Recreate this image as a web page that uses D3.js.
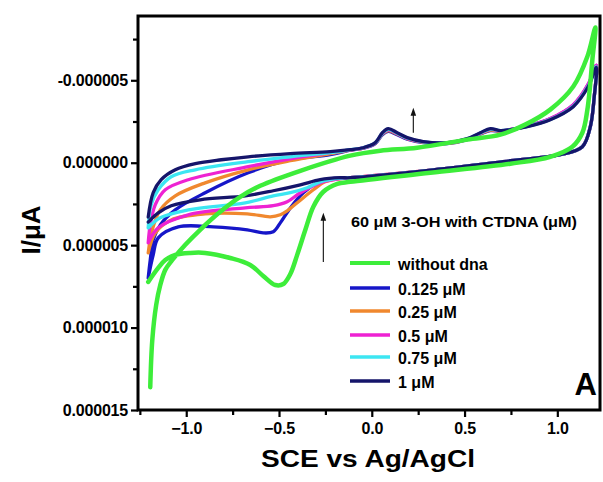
<!DOCTYPE html>
<html>
<head>
<meta charset="utf-8">
<script src="https://cdn.jsdelivr.net/npm/d3@7"></script>
<style>
  body { margin: 0; background: #fff; }
  text { font-family: Arial, "Liberation Sans", sans-serif; }
</style>
</head>
<body>
<div id="chart"></div>
<script>
// ticks (current in uA units, labelled in A)
var xTicks = [-1.0, -0.5, 0.0, 0.5, 1.0];
var xMinor = [-1.25, -0.75, -0.25, 0.25, 0.75];
var yTicks = [-5, 0, 5, 10, 15];
var yMinor = [-7.5, -2.5, 2.5, 7.5, 12.5];

var seriesNames = ["without dna", "0.125 \u03bcM", "0.25 \u03bcM", "0.5 \u03bcM", "0.75 \u03bcM", "1 \u03bcM"];
var seriesColors = ["#3ded3a", "#1616c8", "#f0882e", "#ee22d2", "#3ce6f2", "#15156a"];

// [E (V), I (uA)]  each loop: cathodic branch left->right, then back
var cvWithoutDna = [
  [-1.205,7.23],[-1.151,6.38],[-1.113,5.90],[-1.059,5.59],[-0.978,5.47],[-0.898,5.47],[-0.763,5.78],
  [-0.655,6.20],[-0.585,6.87],[-0.520,7.42],[-0.477,7.36],[-0.439,6.75],[-0.402,5.59],[-0.358,4.07],
  [-0.315,2.67],[-0.261,1.76],[-0.186,1.28],[-0.116,1.16],[0.315,0.61],[0.747,0.06],[0.962,-0.36],
  [1.081,-0.97],[1.135,-1.82],[1.162,-3.22],[1.189,-6.26],[1.205,-8.21],
  [1.162,-6.44],[1.086,-4.62],[0.962,-3.22],[0.827,-2.31],[0.693,-1.70],[0.515,-1.40],[0.245,-0.91],
  [0.046,-0.73],[-0.116,-0.43],[-0.385,0.49],[-0.601,1.40],[-0.709,2.07],[-0.817,2.98],[-0.925,4.07],
  [-1.005,4.98],[-1.075,5.90],[-1.113,6.50],[-1.140,7.42],[-1.162,8.63],[-1.183,10.76],[-1.194,13.62]
];
var cv0125 = [
  [-1.205,6.99],[-1.178,5.59],[-1.151,4.56],[-1.043,3.89],[-0.854,3.89],[-0.671,4.07],[-0.585,4.26],
  [-0.531,4.19],[-0.493,3.65],[-0.439,2.74],[-0.369,1.82],[-0.294,1.22],[-0.224,0.97],[-0.116,0.91],
  [0.332,0.43],[0.747,-0.12],[1.016,-0.49],[1.135,-0.97],[1.178,-2.19],[1.199,-4.01],[1.210,-5.90],
  [1.167,-4.75],[1.086,-3.50],[0.962,-2.66],[0.838,-2.22],[0.747,-2.00],[0.693,-1.90],[0.639,-1.95],
  [0.585,-1.74],[0.515,-1.40],[0.407,-1.16],[0.278,-1.22],[0.191,-1.43],[0.137,-1.70],[0.089,-1.90],
  [0.057,-1.70],[0.019,-1.16],[-0.046,-0.88],[-0.116,-0.76],[-0.224,-0.49],[-0.439,-0.18],[-0.666,0.61],
  [-0.898,1.82],[-1.059,2.86],[-1.140,3.77],[-1.178,4.68],[-1.194,5.90],[-1.205,6.99]
];
var cv025 = [
  [-1.205,5.47],[-1.167,4.26],[-1.081,3.47],[-0.898,3.10],[-0.671,3.10],[-0.547,3.28],[-0.493,3.16],
  [-0.456,2.92],[-0.402,2.43],[-0.315,1.64],[-0.251,1.16],[-0.170,0.97],[-0.116,0.91],
  [0.332,0.43],[0.747,-0.12],[1.016,-0.49],[1.135,-0.97],[1.178,-2.19],[1.199,-4.01],[1.210,-5.88],
  [1.167,-4.72],[1.086,-3.47],[0.962,-2.64],[0.838,-2.21],[0.747,-2.00],[0.693,-1.92],[0.639,-1.98],
  [0.585,-1.76],[0.515,-1.42],[0.407,-1.18],[0.278,-1.24],[0.191,-1.46],[0.137,-1.74],[0.089,-1.95],
  [0.057,-1.74],[0.019,-1.18],[-0.046,-0.89],[-0.116,-0.77],[-0.224,-0.55],[-0.439,-0.12],[-0.666,0.43],
  [-0.898,1.22],[-1.059,2.01],[-1.140,2.86],[-1.183,4.07],[-1.205,5.47]
];
var cv05 = [
  [-1.205,4.86],[-1.151,3.95],[-0.989,3.16],[-0.682,2.74],[-0.531,2.61],[-0.456,2.37],[-0.385,1.82],
  [-0.278,1.22],[-0.170,0.97],[-0.116,0.91],
  [0.332,0.43],[0.747,-0.12],[1.016,-0.49],[1.135,-0.97],[1.178,-2.19],[1.199,-4.01],[1.210,-5.92],
  [1.167,-4.78],[1.086,-3.52],[0.962,-2.68],[0.838,-2.22],[0.747,-2.02],[0.693,-1.94],[0.639,-2.02],
  [0.585,-1.78],[0.515,-1.44],[0.407,-1.20],[0.278,-1.26],[0.191,-1.48],[0.137,-1.77],[0.089,-1.99],
  [0.057,-1.77],[0.019,-1.20],[-0.046,-0.90],[-0.116,-0.78],[-0.224,-0.61],[-0.439,-0.24],[-0.666,0.24],
  [-0.989,1.03],[-1.113,1.64],[-1.167,2.55],[-1.194,3.77],[-1.205,4.86]
];
var cv075 = [
  [-1.205,3.95],[-1.140,3.34],[-0.989,2.86],[-0.682,2.43],[-0.531,2.01],[-0.439,1.82],[-0.348,1.52],
  [-0.278,1.16],[-0.170,0.94],[-0.116,0.91],
  [0.332,0.43],[0.747,-0.12],[1.016,-0.49],[1.135,-0.97],[1.178,-2.19],[1.199,-4.01],[1.210,-5.82],
  [1.167,-4.66],[1.086,-3.43],[0.962,-2.62],[0.838,-2.20],[0.747,-2.01],[0.693,-1.95],[0.639,-2.04],
  [0.585,-1.80],[0.515,-1.45],[0.407,-1.21],[0.278,-1.27],[0.191,-1.50],[0.137,-1.79],[0.089,-2.03],
  [0.057,-1.79],[0.019,-1.21],[-0.046,-0.91],[-0.116,-0.79],[-0.224,-0.61],[-0.439,-0.36],[-0.666,-0.06],
  [-0.951,0.43],[-1.081,0.85],[-1.151,1.64],[-1.189,2.55],[-1.205,3.95]
];
var cv1 = [
  [-1.205,3.60],[-1.151,3.04],[-1.081,2.61],[-0.925,2.25],[-0.682,2.01],[-0.531,1.70],[-0.385,1.34],
  [-0.278,1.03],[-0.170,0.91],[-0.116,0.91],
  [0.332,0.43],[0.747,-0.12],[1.016,-0.49],[1.135,-0.97],[1.178,-2.19],[1.199,-4.01],[1.210,-5.78],
  [1.167,-4.62],[1.086,-3.40],[0.962,-2.61],[0.838,-2.19],[0.747,-2.01],[0.693,-1.95],[0.639,-2.07],
  [0.585,-1.82],[0.515,-1.46],[0.407,-1.22],[0.278,-1.28],[0.191,-1.52],[0.137,-1.82],[0.089,-2.07],
  [0.057,-1.82],[0.019,-1.22],[-0.046,-0.91],[-0.116,-0.79],[-0.224,-0.67],[-0.439,-0.55],[-0.666,-0.36],
  [-0.811,-0.18],[-0.951,0.06],[-1.059,0.43],[-1.135,1.03],[-1.178,1.82],[-1.205,3.30]
];

// arrows: potential, start current, tip current
var arrowE = [-0.261, 0.224];
var arrowFrom = [6.02, -1.82];
var arrowTo = [3.04, -3.34];

var margin = {top: 16, right: 3, bottom: 72, left: 138},
    width = 603 - margin.left - margin.right,
    height = 482 - margin.top - margin.bottom;

var svg = d3.select("#chart")
  .append("svg")
    .attr("width", 603)
    .attr("height", 482)
  .append("g")
    .attr("transform", "translate(" + margin.left + "," + margin.top + ")");

var x = d3.scaleLinear().domain([-1.26, 1.23]).range([0, width]);
var y = d3.scaleLinear().domain([-8.9, 15]).range([0, height]);

svg.append("clipPath").attr("id", "plotclip")
  .append("rect").attr("width", width).attr("height", height);

var line = d3.line()
  .x(function(d) { return x(d[0]); })
  .y(function(d) { return y(d[1]); })
  .curve(d3.curveCatmullRom.alpha(0.5));

// drawn back to front: 0.125 .. 1 uM, then the curve without DNA on top
var curves = [cvWithoutDna, cv0125, cv025, cv05, cv075, cv1];
var order = [1, 2, 3, 4, 5, 0];
var plot = svg.append("g").attr("clip-path", "url(#plotclip)");
order.forEach(function(i) {
  plot.append("path")
    .datum(curves[i])
    .attr("d", line)
    .attr("fill", "none")
    .attr("stroke", seriesColors[i])
    .attr("stroke-width", i == 0 ? 4.5 : 3.3)
    .attr("stroke-linejoin", "round")
    .attr("stroke-linecap", "round");
});

// arrows
arrowE.forEach(function(e, i) {
  var ax = x(e), y0 = y(arrowFrom[i]), y1 = y(arrowTo[i]);
  svg.append("line")
    .attr("x1", ax).attr("x2", ax)
    .attr("y1", y0).attr("y2", y1 + 5)
    .attr("stroke", "#222").attr("stroke-width", 1.2);
  svg.append("path")
    .attr("d", "M" + ax + "," + y1 + "L" + (ax - 2.8) + "," + (y1 + 8) + "L" + (ax + 2.8) + "," + (y1 + 8) + "Z")
    .attr("fill", "#111");
});

// axes
var yAxis = svg.append("g")
  .call(d3.axisLeft(y).tickValues(yTicks).tickSize(7).tickPadding(3)
    .tickFormat(function(d) { return (d * 1e-6).toFixed(6); }));
svg.append("g")
  .call(d3.axisLeft(y).tickValues(yMinor).tickSize(5).tickFormat(""));
var xAxis = svg.append("g")
  .attr("transform", "translate(0," + height + ")")
  .call(d3.axisBottom(x).tickValues(xTicks).tickSize(7).tickPadding(6)
    .tickFormat(d3.format(".1f")));
svg.append("g")
  .attr("transform", "translate(0," + height + ")")
  .call(d3.axisBottom(x).tickValues(xMinor).tickSize(5).tickFormat(""));

svg.selectAll(".domain").remove();
svg.selectAll(".tick line").attr("stroke", "#000").attr("stroke-width", 2.2);
svg.selectAll(".tick text")
  .attr("fill", "#000")
  .attr("font-family", "Arial, 'Liberation Sans', sans-serif")
  .attr("font-weight", "bold")
  .attr("font-size", 16)
  .attr("letter-spacing", -0.2);

svg.append("rect")
  .attr("width", width).attr("height", height)
  .attr("fill", "none").attr("stroke", "#000").attr("stroke-width", 3);

// axis titles
svg.append("text")
  .attr("x", width / 2 - 1)
  .attr("y", height + 57)
  .attr("text-anchor", "middle")
  .attr("font-weight", "bold")
  .attr("font-size", 23)
  .attr("textLength", 214)
  .attr("lengthAdjust", "spacingAndGlyphs")
  .text("SCE vs Ag/AgCl");

svg.append("text")
  .attr("transform", "translate(" + (40 - margin.left) + "," + (230 - margin.top) + ") rotate(-90)")
  .attr("text-anchor", "middle")
  .attr("font-weight", "bold")
  .attr("font-size", 26)
  .text("I/\u03bcA");

// panel letter
svg.append("text")
  .attr("x", width - 3)
  .attr("y", 395 - margin.top)
  .attr("text-anchor", "end")
  .attr("font-weight", "bold")
  .attr("font-size", 31)
  .text("A");

// legend
var legend = svg.append("g").attr("transform", "translate(" + (350 - margin.left) + "," + (227 - margin.top) + ")");
legend.append("text")
  .attr("x", 1).attr("y", 0)
  .attr("font-size", 15.5)
  .attr("font-weight", "bold")
  .attr("textLength", 226)
  .attr("lengthAdjust", "spacingAndGlyphs")
  .text("60 \u03bcM 3-OH with CTDNA (\u03bcM)");

var legendY = [36, 61, 84, 108, 130, 154];
seriesNames.forEach(function(name, i) {
  legend.append("line")
    .attr("x1", 0).attr("x2", 40)
    .attr("y1", legendY[i]).attr("y2", legendY[i])
    .attr("stroke", seriesColors[i])
    .attr("stroke-width", i == 0 ? 4 : 3.5);
  legend.append("text")
    .attr("x", 48).attr("y", legendY[i] + 7)
    .attr("font-size", 16)
    .attr("font-weight", "bold")
    .text(name);
});
</script>
</body>
</html>
